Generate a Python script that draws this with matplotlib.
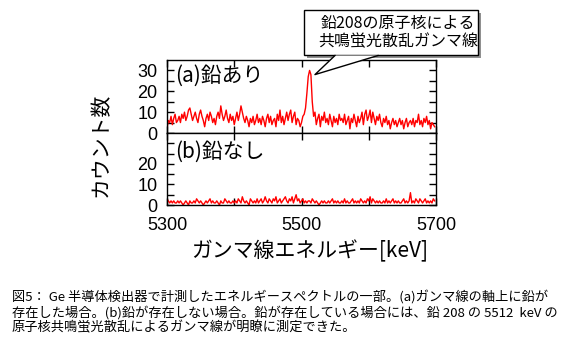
import numpy as np
import matplotlib.pyplot as plt
from matplotlib.patches import Rectangle, Polygon
from matplotlib.lines import Line2D

plt.rcParams['font.family'] = ['Liberation Sans', 'DejaVu Sans']
JP = ['Noto Sans CJK JP', 'DejaVu Sans']

# energy bins (keV), 2 keV wide
energy = np.arange(5300, 5700, 2)

# (a) with lead
counts_a = [
    2, 6, 5, 8, 4, 7, 9, 5, 6, 8,
    5, 9, 7, 10, 6, 8, 11, 12, 9, 6,
    8, 10, 7, 5, 9, 11, 8, 6, 3, 7,
    9, 6, 10, 8, 5, 7, 4, 8, 10, 7,
    13, 9, 6, 8, 11, 7, 5, 9, 6, 8,
    4, 7, 10, 6, 9, 13, 10, 7, 5, 8,
    6, 3, 7, 5, 8, 4, 6, 9, 5, 7,
    4, 8, 6, 3, 7, 9, 5, 8, 4, 6,
    7, 3, 9, 6, 11, 5, 8, 4, 7, 10,
    6, 9, 11, 5, 8, 10, 4, 7, 6, 3,
    5, 8, 9, 12, 19, 27, 30, 28, 15, 8,
    10, 4, 7, 9, 3, 8, 6, 10, 5, 7,
    4, 9, 6, 3, 8, 5, 7, 4, 9, 6,
    7, 5, 9, 4, 6, 8, 2, 7, 5, 9,
    6, 3, 8, 5, 7, 10, 4, 9, 11, 6,
    8, 11, 5, 10, 7, 4, 8, 6, 9, 5,
    3, 7, 5, 8, 4, 6, 2, 5, 7, 4,
    6, 3, 5, 7, 4, 6, 2, 5, 7, 3,
    5, 6, 4, 7, 3, 6, 5, 9, 4, 6,
    3, 7, 5, 8, 4, 6, 2, 5, 4, 3,
]

# (b) without lead
counts_b = [
    3, 2, 1, 2, 1, 2, 1, 1, 2, 1,
    2, 1, 0, 1, 2, 1, 0, 2, 1, 1,
    2, 1, 3, 2, 1, 2, 1, 0, 1, 2,
    1, 2, 3, 1, 2, 1, 1, 2, 1, 0,
    2, 1, 1, 3, 2, 1, 2, 1, 1, 2,
    1, 2, 1, 3, 2, 1, 4, 2, 1, 2,
    1, 0, 3, 2, 1, 2, 1, 3, 1, 2,
    3, 1, 2, 4, 2, 1, 3, 2, 1, 3,
    2, 4, 1, 2, 3, 1, 2, 3, 4, 2,
    1, 3, 2, 4, 1, 3, 5, 2, 3, 1,
    2, 3, 1, 2, 1, 2, 2, 1, 3, 2,
    1, 2, 1, 0, 1, 2, 1, 2, 1, 1,
    2, 1, 2, 3, 1, 2, 1, 2, 1, 1,
    2, 1, 3, 1, 2, 1, 1, 2, 3, 1,
    2, 1, 2, 1, 3, 2, 1, 2, 1, 3,
    2, 4, 1, 3, 2, 1, 2, 1, 2, 1,
    1, 2, 1, 3, 1, 2, 1, 2, 3, 1,
    2, 1, 2, 1, 1, 2, 3, 1, 2, 1,
    2, 6, 1, 2, 1, 3, 2, 1, 3, 2,
    1, 2, 3, 1, 2, 1, 2, 1, 3, 2,
]

xticks = [5300, 5500, 5700]

W, H = 580, 353
fig = plt.figure(figsize=(W / 100, H / 100), dpi=100)
ax1 = fig.add_axes([167 / W, 1 - 133 / H, 269 / W, 73 / H])
ax2 = fig.add_axes([167 / W, 1 - 205 / H, 269 / W, 72 / H])

for ax, y, yt, lab, ly in [(ax1, counts_a, [0, 10, 20, 30], '(a)鉛あり', 0.78),
                           (ax2, counts_b, [0, 10, 20], '(b)鉛なし', 0.74)]:
    ax.plot(energy, y, color='red', lw=1.0)
    ax.set_xlim(5300, 5700)
    ax.set_ylim(0, 35)
    ax.set_yticks(yt)
    ax.set_yticks([5, 15, 25, 30] if ax is ax2 else [5, 15, 25], minor=True)
    ax.set_xticks(xticks)
    ax.set_xticks([5400, 5600], minor=True)
    ax.tick_params(which='both', direction='in', top=True, right=True,
                   length=5, width=1, labelsize=13, pad=7)
    for s in ax.spines.values():
        s.set_linewidth(1)
    ax.text(0.03, ly, lab, transform=ax.transAxes, fontsize=15,
            family=JP, va='center', ha='left')

ax1.tick_params(labelbottom=False)
ax2.tick_params(axis='x', pad=9)

fig.text(310 / W, 1 - 251 / H, 'ガンマ線エネルギー[keV]', fontsize=15,
         family=JP, ha='center', va='center')
fig.text(101 / W, 1 - 145 / H, 'カウント数', fontsize=15, family=JP,
         rotation=90, ha='center', va='center')

# callout box
bx0, bx1, by0, by1 = 304, 478, 10, 55
fig.patches.append(Rectangle((bx0 / W + 3 / W, 1 - by1 / H - 3 / H),
                             (bx1 - bx0) / W, (by1 - by0) / H,
                             transform=fig.transFigure, fc='#909090', ec='none', zorder=5))
fig.patches.append(Rectangle((bx0 / W, 1 - by1 / H), (bx1 - bx0) / W, (by1 - by0) / H,
                             transform=fig.transFigure, fc='white', ec='black',
                             lw=1, zorder=6))
tip = fig.transFigure.inverted().transform(ax1.transData.transform((5520, 28)))
p_left = (335 / W, 1 - (by1 + 0.5) / H)
p_right = (378 / W, 1 - (by1 + 0.5) / H)
fig.patches.append(Polygon([p_left, tuple(tip), p_right], closed=True,
                           transform=fig.transFigure, fc='white', ec='none', zorder=7))
fig.lines.append(Line2D([p_left[0], tip[0], p_right[0]], [p_left[1], tip[1], p_right[1]],
                        transform=fig.transFigure, color='black', lw=1, zorder=8))
fig.text(398 / W, 1 - 23 / H, '鉛208の原子核による', fontsize=11.5, family=JP,
         ha='center', va='center', zorder=9)
fig.text(398 / W, 1 - 42 / H, '共鳴蛍光散乱ガンマ線', fontsize=11.5, family=JP,
         ha='center', va='center', zorder=9)

caption = [
    '図5： Ge 半導体検出器で計測したエネルギースペクトルの一部。(a)ガンマ線の軸上に鉛が',
    '存在した場合。(b)鉛が存在しない場合。鉛が存在している場合には、鉛 208 の 5512  keV の',
    '原子核共鳴蛍光散乱によるガンマ線が明瞭に測定できた。',
]
for i, line in enumerate(caption):
    fig.text(12 / W, 1 - (297 + 15.5 * i) / H, line, fontsize=9.5, family=JP,
             ha='left', va='center')

fig.savefig('out.png', dpi=100)
